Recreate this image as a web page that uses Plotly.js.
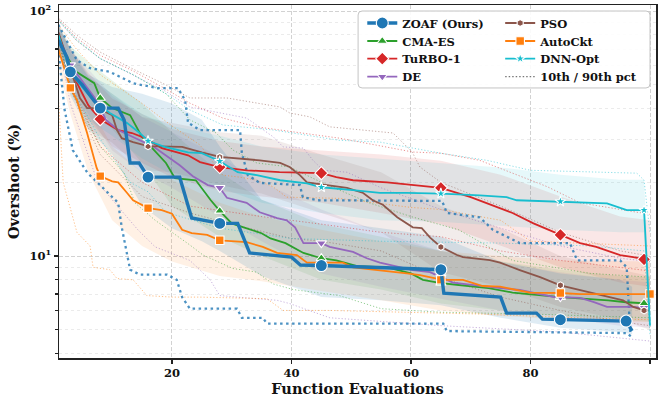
<!DOCTYPE html>
<html>
<head>
<meta charset="utf-8">
<script src="https://cdn.plot.ly/plotly-3.0.1.min.js"></script>
<style>html,body{margin:0;padding:0;background:#fff;}#chart{width:662px;height:400px;}</style>
</head>
<body>
<div id="chart"></div>
<script>
// ---------------- data ----------------
const methods = ['CMA-ES', 'TuRBO-1', 'DE', 'PSO', 'AutoCkt', 'DNN-Opt', 'ZOAF (Ours)'];

// medians (best-so-far overshoot, %)
const zoafX = [1, 2.4, 3, 5, 7, 8, 11, 12, 13, 14.5, 16, 21.3, 23.3, 28, 31, 33, 40, 41.5, 45, 65, 65.5, 75, 76, 81, 82, 85, 96, 97];
const zoafY = [76, 65, 56.5, 50, 43, 40.2, 40.2, 35.9, 24.0, 24.0, 21.0, 21.0, 14.3, 13.6, 13.6, 10.3, 9.9, 9.2, 9.15, 8.8, 7.06, 6.8, 5.85, 5.85, 5.53, 5.5, 5.43, 4.95];
const cmaX = [1, 2, 4, 7, 8, 10, 13, 15, 19, 20.5, 24, 26.5, 28, 30, 32, 35, 36.5, 39, 42, 45, 47.5, 51, 56, 60, 62, 65, 68, 73, 77, 85, 93, 96, 99, 100];
const cmaY = [80, 68, 56.5, 50.8, 44.2, 40.2, 37.6, 30.6, 24.0, 20.8, 20.4, 16.9, 15.3, 13.6, 13.1, 12.4, 11.8, 11.3, 10.3, 9.8, 9.6, 9.1, 9.0, 8.5, 8.0, 7.76, 7.62, 7.4, 7.1, 6.8, 6.6, 6.48, 6.42, 6.4];
const turboX = [1, 3, 6, 8, 11, 13.3, 15.5, 18.3, 22.7, 24.7, 28, 32.5, 38, 45, 47.5, 50.3, 56, 60.3, 65, 70, 74.5, 77, 80.5, 83, 85, 88.3, 91, 95, 97.2, 99, 100];
const turboY = [81, 57.5, 41.3, 36.2, 32.7, 31.8, 30.3, 27.6, 25.8, 24.2, 23.1, 22.4, 22.0, 21.8, 21.0, 20.4, 20.0, 19.5, 19.0, 17.4, 15.8, 15.0, 13.6, 12.8, 12.2, 11.3, 10.9, 10.1, 9.9, 9.7, 9.6];
const deX = [1, 3, 4, 7, 9, 11, 17, 21.3, 23.5, 26, 28, 29.2, 32.5, 34.7, 37.6, 39.2, 40.6, 42, 45, 46.4, 50.3, 52.6, 54.8, 58.2, 60.3, 63.2, 65, 67, 72.7, 78.2, 84, 85, 88.3, 90.5, 92.8, 97.2, 99, 100];
const deY = [80, 60.2, 55.9, 44.5, 35.9, 32.7, 27.9, 23.5, 21.2, 19.5, 19.0, 17.3, 16.5, 15.1, 14.3, 14.0, 13.1, 11.3, 11.3, 10.9, 10.4, 9.8, 9.4, 9.0, 8.77, 8.6, 8.2, 7.8, 7.5, 7.27, 6.8, 6.8, 6.75, 6.5, 6.2, 6.2, 6.15, 6.15];
const psoX = [1, 3, 4.6, 5.8, 7.6, 10, 10.8, 11.6, 13.5, 16, 21.7, 25, 28, 34.7, 38.1, 39.7, 41.4, 42.6, 45.9, 49.3, 52, 53.6, 55.3, 57.7, 60.3, 61.8, 63.2, 65, 67.7, 68.7, 73.2, 74.9, 78.2, 81.6, 85, 88.3, 92.8, 95.5, 97.2, 99, 100];
const psoY = [82, 58, 44.2, 40.2, 40.2, 37.6, 32.7, 30.3, 29.2, 28.1, 27.9, 26.5, 25.4, 24.6, 24.0, 23.1, 21.4, 20.0, 19.5, 19.0, 18.1, 16.9, 16.2, 14.4, 13.1, 13.0, 11.9, 10.9, 10.1, 9.9, 9.63, 9.4, 8.77, 8.2, 7.6, 7.27, 6.8, 6.6, 6.2, 6.0, 6.0];
const autoX = [1, 2, 3, 4.1, 5.8, 7.4, 8, 10, 11, 12.5, 13.5, 16, 18.3, 20, 21.7, 23.3, 25.9, 28, 32.5, 35.2, 37.6, 40.9, 42.6, 48.6, 50.3, 59.3, 61.5, 64.3, 65, 68.7, 72, 74.9, 79.9, 85, 88.3, 100];
const autoY = [70, 58, 48.6, 43.3, 31.8, 22.9, 21.2, 20.2, 20.0, 18.1, 16.9, 15.7, 15.4, 14.9, 12.8, 12.4, 12.2, 11.6, 11.4, 10.9, 10.3, 10.1, 9.4, 9.4, 9.0, 8.5, 8.36, 8.1, 8.0, 8.0, 7.55, 7.5, 7.1, 7.07, 7.0, 7.0];
const dnnX = [1, 3, 6.8, 9.6, 12.5, 14.6, 16, 18.8, 22.7, 25, 28, 31, 34.2, 38.1, 42.6, 45, 50.3, 54.8, 59.3, 65, 71.5, 76, 77.7, 85, 92.8, 96.1, 99, 100];
const dnnY = [80, 56, 43.3, 38.4, 34.9, 31.8, 29.5, 27.9, 26.5, 26.3, 24.4, 22.0, 21.4, 20.4, 19.8, 19.1, 18.6, 18.1, 18.1, 18.0, 17.7, 17.4, 16.9, 16.7, 16.4, 15.4, 15.4, 5.2];

// evaluations where markers are shown
const zoafMarkX = [3, 8, 16, 28, 45, 65, 85, 96];
const cmaMarkX = [8, 28, 45, 65, 85, 99];
const turboMarkX = [8, 28, 45, 65, 85, 99];
const deMarkX = [3, 28, 45, 65, 85, 99];
const psoMarkX = [16, 28, 65, 85, 99];
const autoMarkX = [3, 8, 16, 28, 65, 85, 100];
const dnnMarkX = [16, 28, 45, 65, 85, 99];

// interquartile bands
const bandX = [1, 3, 6, 10, 15, 20, 28, 35, 45, 55, 65, 75, 85, 95, 100];
const cmaLo = [72, 50, 42, 33, 24, 16, 12, 10, 8.0, 7.3, 6.4, 6.0, 5.7, 5.5, 5.4];
const cmaHi = [88, 72, 62, 52, 42, 32, 22, 17, 13.5, 12, 10.5, 9.5, 8.8, 8.3, 8.2];
const turboLo = [74, 48, 36, 28, 24, 21, 18.5, 17.5, 16.5, 15, 13.5, 11, 9, 7.8, 7.5];
const turboHi = [88, 70, 56, 44, 38, 33, 29.5, 28, 27, 26, 24.5, 21.5, 17.5, 14.5, 14];
const deLo = [72, 50, 38, 27, 22, 19, 14.5, 11.5, 8.5, 7.5, 6.7, 6.0, 5.6, 5.2, 5.1];
const deHi = [88, 70, 58, 45, 37, 32, 25.5, 20, 15.5, 12.5, 10.5, 9.4, 8.6, 8, 7.8];
const psoLo = [74, 48, 33, 29, 22.5, 22, 19.5, 18, 15, 12.5, 8.6, 7.5, 6.2, 5.5, 5.0];
const psoHi = [88, 70, 54, 46, 37, 35, 32, 31, 26, 22, 16, 13, 10, 8.8, 8.3];
const autoLo = [60, 38, 22, 14, 11, 9.5, 8.3, 7.9, 7.2, 6.6, 6.0, 5.7, 5.5, 5.4, 5.4];
const autoHi = [80, 60, 42, 28, 22, 20.5, 16.5, 14.5, 12.8, 11.5, 10.5, 10, 9.6, 9.5, 9.5];
const dnnBandX = [1, 3, 6, 10, 15, 20, 28, 35, 45, 55, 65, 75, 85, 95, 99, 100];
const dnnLo = [72, 46, 36, 31, 25, 21.5, 19, 16.5, 15, 14, 13.8, 13.3, 12.8, 12.5, 12.5, 4.6];
const dnnHi = [88, 68, 54, 46, 38, 34, 31, 28, 26, 25, 24, 23, 21.5, 20.5, 20.5, 6.5];
const zoafBandX = [1, 3, 6, 10, 15, 20, 25, 28, 35, 45, 55, 65, 75, 85, 95, 97];
const zoafLo = [68, 45, 33, 26, 16, 13, 11.5, 10.5, 8.3, 6.8, 6.6, 6.3, 5.6, 5.1, 4.9, 4.8];
const zoafHi = [86, 70, 55, 49, 46, 42, 36, 28, 17, 14, 13, 12, 9.5, 8.5, 8.0, 7.5];

// 10th / 90th percentiles
const zoafP90X = [1, 4.1, 6.3, 9.6, 13.5, 17.5, 21, 22.2, 22.7, 24.7, 31.4, 31.7, 32.7, 34.7, 41.4, 41.9, 44.3, 65.2, 66, 71.5, 73.7, 78.2, 86.6, 87.8, 95, 96.1, 96.7];
const zoafP90 = [88, 63, 58.5, 56.5, 50.8, 48.5, 48.5, 43.3, 35.0, 32.7, 32.7, 26.3, 21.4, 19.9, 19.5, 17.4, 16.9, 16.8, 15.0, 14.4, 12.8, 11.3, 11.3, 9.6, 9.6, 9.0, 4.8];
const zoafP10X = [1, 2, 3.4, 5.9, 7.6, 11, 11.6, 12.6, 13, 14.6, 19.2, 20.8, 21.7, 23, 30.9, 31.7, 35.2, 35.9, 65.4, 66, 96.1, 97];
const zoafP10 = [70, 40, 27.1, 21.8, 19.9, 16.5, 13.1, 9.6, 8.8, 8.4, 8.4, 8.0, 6.8, 6.1, 6.1, 5.6, 5.6, 5.3, 5.3, 4.94, 4.85, 4.66];
const cmaP90X = [1, 4, 8, 13.5, 19, 23, 27.4, 30.2, 34.2, 37.6, 39.7, 45, 53, 60, 68, 77, 90, 100];
const cmaP90 = [92, 76, 64, 55, 46, 36, 31.8, 27.1, 24.0, 23.5, 23.1, 20, 16.5, 14.5, 12.8, 9.6, 8.5, 8.2];
const cmaP10X = [1, 3, 8, 12, 13.8, 17.2, 23, 25.2, 30.2, 34.2, 36.9, 40.3, 48, 55, 65, 80, 100];
const cmaP10 = [76, 48, 28, 21.8, 16.5, 14.0, 11.1, 10.1, 8.9, 8.6, 7.7, 7.3, 6.9, 6.1, 5.9, 5.8, 5.6];
const turboP90X = [1, 4, 8, 13.5, 19, 23, 28.5, 34.2, 48, 60.3, 65, 71.5, 77, 82.8, 88.3, 93.8, 99, 100];
const turboP90 = [93, 78, 66, 57, 48, 42.1, 36.6, 33.7, 30.3, 26.6, 26.3, 24.6, 21.8, 19.2, 16.5, 15.7, 15.0, 14.8];
const turboP10X = [1, 3, 8, 15, 23, 35, 45, 55, 65, 75, 85, 100];
const turboP10 = [78, 50, 28, 20, 16, 14.5, 13.5, 12.5, 12, 10.5, 9.6, 8.7];
const deP90X = [1, 4, 8, 13.5, 19, 23, 32.5, 37, 38.6, 42, 43.6, 45.3, 49.3, 55, 65, 75, 85, 95, 100];
const deP90 = [91, 76, 64, 55, 47, 40.6, 36.6, 30.6, 27.9, 27.6, 24.6, 22.4, 22.0, 19, 15.5, 13, 11, 9.8, 9.5];
const deP10X = [1, 3, 7.6, 14.3, 17.2, 23, 26.4, 28, 32.5, 37.6, 39.7, 46.4, 65, 85, 100];
const deP10 = [75, 42, 19.9, 12.8, 10.9, 9.6, 8.0, 6.9, 6.75, 6.6, 6.4, 5.6, 5.2, 4.9, 4.5];
const psoP90X = [1, 4, 8, 13.5, 19, 23, 29.2, 38.1, 39.7, 43.1, 46.4, 57, 60.2, 61.5, 65, 75, 85, 95, 100];
const psoP90 = [94, 80, 68, 58, 50, 44.2, 44.2, 40.6, 38.4, 37, 33.7, 31.8, 26.6, 23.1, 20, 16, 12.5, 10.5, 10];
const psoP10X = [1, 3, 8, 15, 23, 30, 40, 45, 55, 65, 75, 85, 95, 100];
const psoP10 = [78, 48, 26, 17.5, 15, 13.5, 11.8, 11.5, 10.5, 8.2, 6.8, 6.0, 5.4, 5.2];
const autoP90X = [1, 4, 8, 15, 20, 24.7, 28.5, 31.4, 34.2, 36.9, 39.2, 48, 60, 65, 75, 80, 100];
const autoP90 = [88, 70, 55, 42, 34, 28.4, 21.4, 21.0, 20.4, 19.2, 17.4, 17.2, 15.8, 15.5, 14, 11.5, 11];
const autoP10X = [1, 1.8, 4.1, 6.3, 6.8, 9.6, 10.8, 13.5, 15.8, 20, 24.7, 35.9, 38.6, 46.4, 71.5, 88, 100];
const autoP10 = [45, 20, 12.5, 11.0, 9.0, 8.8, 8.1, 8.0, 6.9, 6.8, 6.8, 6.7, 6.0, 6.0, 5.8, 5.6, 5.5];
const dnnP90X = [1, 4, 8, 13.5, 19, 23, 28.5, 37, 48, 54.8, 65, 72.7, 80, 89.4, 97.8, 99, 100];
const dnnP90 = [92, 77, 64, 55, 46, 39.5, 34.3, 32.7, 29.7, 29.2, 26.3, 24.6, 22.4, 22.0, 21.8, 20.4, 12.4];
const dnnP10X = [1, 3, 8, 13, 16, 19, 28, 40, 55, 65, 75, 90, 99, 100];
const dnnP10 = [78, 50, 30, 20, 18.3, 15.1, 13, 11.8, 11.5, 11.4, 11.3, 11.0, 10.5, 4.8];

// tick labels
const xTicks = [20, 40, 60, 80, 100];
const yTicks = [10, 100];
const yTickText = ['10<sup>1</sup>', '10<sup>2</sup>'];
const yMinor = [4, 5, 6, 7, 8, 9, 20, 30, 40, 50, 60, 70, 80, 90];

// legend entries: column 1 then column 2
const legendCol1 = ['ZOAF (Ours)', 'CMA-ES', 'TuRBO-1', 'DE'];
const legendCol2 = ['PSO', 'AutoCkt', 'DNN-Opt', '10th / 90th pct'];

// ---------------- styling ----------------
const C = {zoaf:'#1f77b4', cma:'#2ca02c', turbo:'#d62728', de:'#9467bd', pso:'#8c564b', auto:'#ff7f0e', dnn:'#17becf'};
function rgba(hex, a){const n=parseInt(hex.slice(1),16);return `rgba(${n>>16&255},${n>>8&255},${n&255},${a})`;}
function pick(xs, ys, mx){return mx.map(v => ys[xs.indexOf(v)]);}

const S = [
  {name:'CMA-ES', col:C.cma, x:cmaX, y:cmaY, mx:cmaMarkX, sym:'triangle-up', ms:9, lw:1.8, bx:bandX, lo:cmaLo, hi:cmaHi, p90x:cmaP90X, p90:cmaP90, p10x:cmaP10X, p10:cmaP10},
  {name:'TuRBO-1', col:C.turbo, x:turboX, y:turboY, mx:turboMarkX, sym:'diamond', ms:10, lw:1.8, bx:bandX, lo:turboLo, hi:turboHi, p90x:turboP90X, p90:turboP90, p10x:turboP10X, p10:turboP10},
  {name:'DE', col:C.de, x:deX, y:deY, mx:deMarkX, sym:'triangle-down', ms:9, lw:1.8, bx:bandX, lo:deLo, hi:deHi, p90x:deP90X, p90:deP90, p10x:deP10X, p10:deP10},
  {name:'PSO', col:C.pso, x:psoX, y:psoY, mx:psoMarkX, sym:'hexagon', ms:7, lw:1.8, bx:bandX, lo:psoLo, hi:psoHi, p90x:psoP90X, p90:psoP90, p10x:psoP10X, p10:psoP10},
  {name:'AutoCkt', col:C.auto, x:autoX, y:autoY, mx:autoMarkX, sym:'square', ms:8.5, lw:1.8, bx:bandX, lo:autoLo, hi:autoHi, p90x:autoP90X, p90:autoP90, p10x:autoP10X, p10:autoP10},
  {name:'DNN-Opt', col:C.dnn, x:dnnX, y:dnnY, mx:dnnMarkX, sym:'star', ms:8, lw:1.8, bx:dnnBandX, lo:dnnLo, hi:dnnHi, p90x:dnnP90X, p90:dnnP90, p10x:dnnP10X, p10:dnnP10},
  {name:'ZOAF (Ours)', col:C.zoaf, x:zoafX, y:zoafY, mx:zoafMarkX, sym:'circle', ms:12, lw:3.4, bx:zoafBandX, lo:zoafLo, hi:zoafHi, p90x:zoafP90X, p90:zoafP90, p10x:zoafP10X, p10:zoafP10}
];

const traces = [];
// bands
S.forEach(s => {
  traces.push({x:s.bx, y:s.lo, mode:'lines', line:{width:0, color:s.col}, showlegend:false, hoverinfo:'skip'});
  traces.push({x:s.bx, y:s.hi, mode:'lines', line:{width:0, color:s.col}, fill:'tonexty', fillcolor:rgba(s.col, s.name.startsWith('ZOAF')?0.14:0.11), showlegend:false, hoverinfo:'skip'});
});
// percentiles
S.forEach(s => {
  const z = s.name.startsWith('ZOAF');
  const ln = z ? {color:rgba(s.col,0.8), width:2.3, dash:'2.5px,3.5px'} : {color:rgba(s.col,0.5), width:1, dash:'1.2px,2px'};
  traces.push({x:s.p90x, y:s.p90, mode:'lines', line:ln, showlegend:false, hoverinfo:'skip'});
  traces.push({x:s.p10x, y:s.p10, mode:'lines', line:ln, showlegend:false, hoverinfo:'skip'});
});
// medians + markers
const mk = s => ({symbol:s.sym, size:s.ms, color:s.col, line:{color:'white', width:1.1}});
S.forEach(s => {
  traces.push({x:s.x, y:s.y, mode:'lines', line:{color:s.col, width:s.lw}, showlegend:false, hoverinfo:'skip'});
  traces.push({x:s.mx, y:pick(s.x, s.y, s.mx), mode:'markers', marker:mk(s), showlegend:false, hoverinfo:'skip'});
});

// legend: one small legend per entry, so rows can sit 18 px apart
const F = 'DejaVu Serif, serif';
const layoutLegends = {};
const rowY = [0.949, 0.898, 0.848, 0.797];
let li = 0;
[[legendCol1, 0.508], [legendCol2, 0.739]].forEach(([names, lx]) => {
  names.forEach((n, r) => {
    li += 1;
    const key = li === 1 ? 'legend' : 'legend' + li;
    layoutLegends[key] = {x:lx, y:rowY[r], xanchor:'left', yanchor:'middle', bgcolor:'rgba(0,0,0,0)', borderwidth:0, itemwidth:30,
      font:{family:F, size:11.5, color:'#111', weight:'bold'}};
    const s = S.find(t => t.name === n);
    if (s) {
      traces.push({x:[null], y:[null], name:n, mode:'lines+markers', line:{color:s.col, width:s.lw}, marker:mk(s), legend:key, showlegend:true, hoverinfo:'skip'});
    } else {
      traces.push({x:[null], y:[null], name:n, mode:'lines', line:{color:'#777', width:1.3, dash:'1.5px,2px'}, legend:key, showlegend:true, hoverinfo:'skip'});
    }
  });
});

// legend box (paper coordinates)
const bx0 = 0.501, bx1 = 0.990, by0 = 0.765, by1 = 0.983, rx = 0.0067, ry = 0.0113;
const boxPath = `M${bx0+rx},${by1} L${bx1-rx},${by1} Q${bx1},${by1} ${bx1},${by1-ry} L${bx1},${by0+ry} Q${bx1},${by0} ${bx1-rx},${by0} L${bx0+rx},${by0} Q${bx0},${by0} ${bx0},${by0+ry} L${bx0},${by1-ry} Q${bx0},${by1} ${bx0+rx},${by1} Z`;

const layout = Object.assign({
  width:662, height:400,
  margin:{l:59, r:6, t:5, b:42},
  paper_bgcolor:'white', plot_bgcolor:'white',
  font:{family:F, size:11, color:'#111'},
  showlegend:true,
  xaxis:{range:[1.1, 101], tickmode:'array', tickvals:xTicks, ticks:'outside', ticklen:4, tickwidth:1.2, tickcolor:'#222',
    showline:true, linecolor:'#222', linewidth:1.5, mirror:true, zeroline:false,
    showgrid:true, gridcolor:'#d2d2d2', griddash:'4px,2px', gridwidth:1,
    tickfont:{family:F, size:11.5, weight:'bold', color:'#111'},
    title:{text:'Function Evaluations', font:{family:F, size:14.5, weight:'bold', color:'#111'}, standoff:4}},
  yaxis:{type:'log', range:[0.584, 2.025], tickmode:'array', tickvals:yTicks, ticktext:yTickText, ticks:'outside', ticklen:4, tickwidth:1.2, tickcolor:'#222',
    showline:true, linecolor:'#222', linewidth:1.5, mirror:true, zeroline:false,
    showgrid:true, gridcolor:'#d2d2d2', griddash:'4px,2px', gridwidth:1,
    minor:{tickmode:'array', tickvals:yMinor, ticks:'outside', ticklen:2.5, tickcolor:'#222', showgrid:true, gridcolor:'#ebebeb', griddash:'dot', gridwidth:1},
    tickfont:{family:F, size:11.5, weight:'bold', color:'#111'},
    title:{text:'Overshoot (%)', font:{family:F, size:14.5, weight:'bold', color:'#111'}, standoff:6}},
  shapes:[{type:'path', xref:'paper', yref:'paper', path:boxPath, fillcolor:'rgba(255,255,255,0.88)', line:{color:'#c4c4c4', width:1}, layer:'above'}]
}, layoutLegends);

Plotly.newPlot('chart', traces, layout, {staticPlot:true, displayModeBar:false});
</script>
</body>
</html>
